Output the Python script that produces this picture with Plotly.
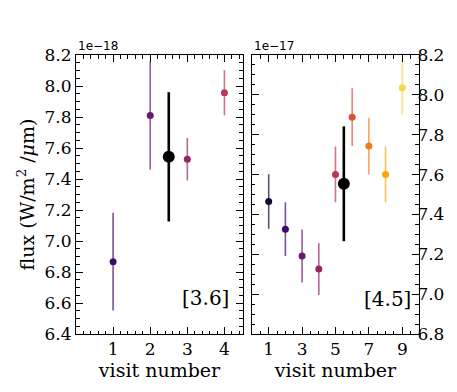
import plotly.graph_objects as go

# IRAC [3.6] visits (flux in units of 1e-18 W/m^2/um)
visits_36 = [1, 2, 3, 4]
flux_36 = [6.867, 7.81, 7.528, 7.957]
err_36 = [0.316, 0.35, 0.137, 0.146]
colors_36 = ["#420a68", "#6a176e", "#932667", "#bc3754"]
mean_x_36 = 2.5
mean_36 = 7.543
mean_err_36 = 0.417

# IRAC [4.5] visits (flux in units of 1e-17 W/m^2/um)
visits_45 = [1, 2, 3, 4, 5, 6, 7, 8, 9]
flux_45 = [7.465, 7.326, 7.191, 7.126, 7.601, 7.888, 7.743, 7.601, 8.036]
err_45 = [0.137, 0.135, 0.133, 0.13, 0.14, 0.145, 0.142, 0.14, 0.135]
colors_45 = ["#160b39", "#420a68", "#6a176e", "#932667", "#bc3754",
             "#dd513a", "#f37819", "#fca50a", "#f6d746"]
mean_x_45 = 5.5
mean_45 = 7.554
mean_err_45 = 0.288


def rgba(hex_col, a):
    h = hex_col.lstrip("#")
    return "rgba(%d,%d,%d,%.2f)" % (int(h[0:2], 16), int(h[2:4], 16), int(h[4:6], 16), a)


fig = go.Figure()

panels = [
    (visits_36, flux_36, err_36, colors_36, mean_x_36, mean_36, mean_err_36, "x", "y"),
    (visits_45, flux_45, err_45, colors_45, mean_x_45, mean_45, mean_err_45, "x2", "y2"),
]
for vis, flux, err, cols, mx, mf, me, xa, ya in panels:
    for v, f, e, c in zip(vis, flux, err, cols):
        fig.add_trace(go.Scatter(
            x=[v], y=[f], mode="markers", xaxis=xa, yaxis=ya,
            marker=dict(color=c, size=7),
            error_y=dict(type="data", array=[e], color=rgba(c, 0.7), thickness=1.6, width=0),
            showlegend=False))
    # weighted mean point
    fig.add_trace(go.Scatter(
        x=[mx], y=[mf], mode="markers", xaxis=xa, yaxis=ya,
        marker=dict(color="black", size=12),
        error_y=dict(type="data", array=[me], color="black", thickness=2.6, width=0),
        showlegend=False))

serif = "DejaVu Serif"
font = dict(family=serif, size=17, color="black")
title_font = dict(family=serif, size=19, color="black")
axis_common = dict(
    showline=True, linecolor="black", linewidth=1, mirror="allticks",
    ticks="inside", ticklen=7, tickwidth=1, tickcolor="black",
    showgrid=False, zeroline=False, tickfont=font,
)

fig.update_layout(
    width=457, height=392,
    margin=dict(l=0, r=0, t=0, b=0),
    paper_bgcolor="white", plot_bgcolor="white",
    font=font,
    xaxis=dict(axis_common, domain=[0.1488, 0.5142], range=[0, 4.5],
               tickvals=[1, 2, 3, 4],
               minor=dict(dtick=0.2, tick0=0, ticks="inside", ticklen=3.5, tickcolor="black"),
               title=dict(text="visit number", font=title_font, standoff=2)),
    yaxis=dict(axis_common, domain=[0.1505, 0.9005], range=[6.4, 8.2],
               tickvals=[6.4, 6.6, 6.8, 7.0, 7.2, 7.4, 7.6, 7.8, 8.0, 8.2], tickformat=".1f",
               minor=dict(dtick=0.05, tick0=6.4, ticks="inside", ticklen=3.5, tickcolor="black"),
               title=dict(text="flux (W/m<sup>2</sup> /<i>μ</i>m)", font=title_font, standoff=4)),
    xaxis2=dict(axis_common, domain=[0.5339, 0.8993], range=[0, 10], anchor="y2",
                tickvals=[1, 3, 5, 7, 9],
                minor=dict(dtick=0.5, tick0=0, ticks="inside", ticklen=3.5, tickcolor="black"),
                title=dict(text="visit number", font=title_font, standoff=2)),
    yaxis2=dict(axis_common, domain=[0.1505, 0.9005], range=[6.8, 8.2], anchor="x2", side="right",
                tickvals=[6.8, 7.0, 7.2, 7.4, 7.6, 7.8, 8.0, 8.2], tickformat=".1f",
                ticklabelstandoff=-6,
                minor=dict(dtick=0.05, tick0=6.8, ticks="inside", ticklen=3.5, tickcolor="black")),
    annotations=[
        dict(text="1e−18", xref="paper", yref="paper", x=0.1488, y=0.9005,
             xanchor="left", yanchor="bottom", showarrow=False,
             font=dict(family="DejaVu Sans", size=12)),
        dict(text="1e−17", xref="paper", yref="paper", x=0.5339, y=0.9005,
             xanchor="left", yanchor="bottom", showarrow=False,
             font=dict(family="DejaVu Sans", size=12)),
        dict(text="[3.6]", xref="x", yref="y", x=4.18, y=6.63,
             xanchor="right", yanchor="middle", showarrow=False,
             font=dict(family=serif, size=20)),
        dict(text="[4.5]", xref="x2", yref="y2", x=9.65, y=6.975,
             xanchor="right", yanchor="middle", showarrow=False,
             font=dict(family=serif, size=20)),
    ],
)

fig.write_html("out.html")
